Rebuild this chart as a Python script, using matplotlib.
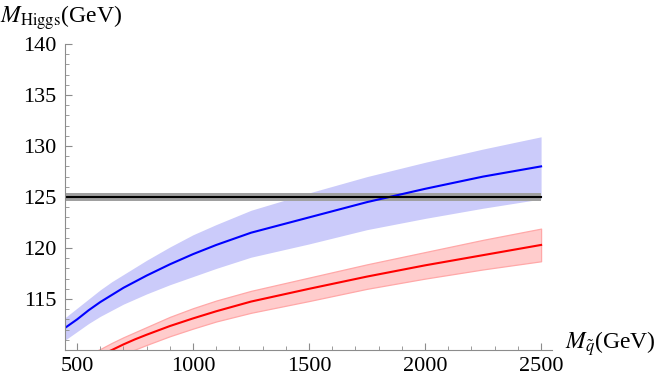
import numpy as np
import matplotlib.pyplot as plt

plt.rcParams['font.family'] = ['Liberation Serif', 'DejaVu Serif']
plt.rcParams['mathtext.fontset'] = 'stix'

# squark mass grid (GeV)
m_sq = [450, 500, 550, 600, 650, 700, 750, 800, 900, 1000,
        1100, 1250, 1500, 1750, 2000, 2250, 2500]

# blue: central value and band
blue_mid = [112.2, 113.0, 113.9, 114.7, 115.4, 116.1, 116.7, 117.3, 118.4, 119.4,
            120.3, 121.5, 123.0, 124.5, 125.8, 127.0, 128.0]
blue_hi = [113.2, 114.1, 115.0, 115.9, 116.7, 117.4, 118.1, 118.8, 120.1, 121.3,
           122.3, 123.7, 125.4, 127.0, 128.4, 129.7, 130.9]
blue_lo = [111.0, 111.8, 112.6, 113.3, 113.9, 114.5, 115.0, 115.5, 116.4, 117.2,
           118.0, 119.1, 120.4, 121.8, 122.9, 123.9, 124.8]

# red: central value and band (below the plot range at low mass)
red_mid = [107.6, 108.4, 109.0, 109.5, 110.0, 110.55, 111.05, 111.5, 112.35, 113.1,
           113.8, 114.75, 116.0, 117.2, 118.3, 119.3, 120.3]
red_hi = [108.3, 109.0, 109.6, 110.1, 110.7, 111.25, 111.75, 112.25, 113.25, 114.1,
          114.85, 115.8, 117.1, 118.4, 119.6, 120.8, 121.9]
red_lo = [106.9, 107.6, 108.2, 108.7, 109.2, 109.65, 110.05, 110.5, 111.35, 112.1,
          112.8, 113.65, 114.8, 116.0, 117.0, 117.9, 118.7]

# measured Higgs mass
m_h = 125.0
m_h_err = 0.35

fig = plt.figure(figsize=(6.64, 3.84), dpi=100)
ax = fig.add_axes([0.0979, 0.0885, 0.7334, 0.797])

ax.fill_between(m_sq, blue_lo, blue_hi, color='#cbcbfa', lw=0)
ax.plot(m_sq, blue_mid, color='#0000ff', lw=1.5)

ax.fill_between(m_sq, red_lo, red_hi, facecolor='#ffcccc', edgecolor='#ffa8a8', lw=0.9)
ax.plot(m_sq, red_mid, color='#ff0000', lw=1.5)

ax.fill_between([450, 2500], m_h - m_h_err, m_h + m_h_err, color='#a0a0a0', lw=0)
ax.plot([450, 2500], [m_h, m_h], color='black', lw=1.5)

ax.set_xlim(448, 2547)
ax.set_ylim(110, 140)

for s in ['top', 'right']:
    ax.spines[s].set_visible(False)
for s in ['left', 'bottom']:
    ax.spines[s].set_color('#8c8c8c')
    ax.spines[s].set_linewidth(0.8)

ax.set_xticks([500, 1000, 1500, 2000, 2500])
ax.set_xticks(np.arange(600, 2500, 100), minor=True)
ax.set_yticks([115, 120, 125, 130, 135, 140])
ax.set_yticks(np.arange(111, 140, 1), minor=True)
ax.tick_params(which='both', direction='in', color='#8c8c8c', labelsize=16)
ax.tick_params(which='major', length=5, width=0.8)
ax.tick_params(which='minor', length=3, width=0.6)
ax.tick_params(axis='x', pad=5)
ax.tick_params(axis='y', pad=6)

fig.text(0.0, 0.955, r'$M_{\rm Higgs}$(GeV)', fontsize=17, va='center', ha='left')
fig.text(0.851, 0.105, r'$M_{\tilde{q}}$(GeV)', fontsize=17, va='center', ha='left')

fig.savefig('out.png', dpi=100)
